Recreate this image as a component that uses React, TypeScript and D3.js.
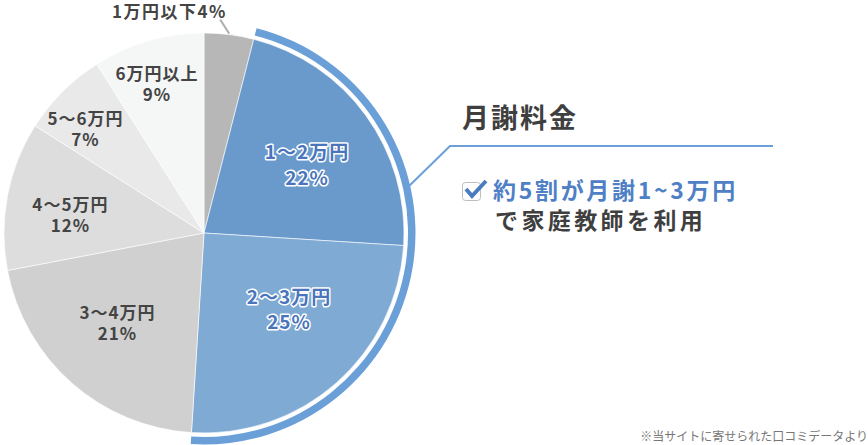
import React from 'react';
import * as d3 from 'd3';

const categories = ['1万円以下', '1〜2万円', '2〜3万円', '3〜4万円', '4〜5万円', '5〜6万円', '6万円以上'];
const shares = [4, 22, 25, 21, 12, 7, 9];
const highlighted = [1, 2];
const title = '月謝料金';
const noteLine1 = '約5割が月謝1~3万円';
const noteLine2 = 'で家庭教師を利用';
const footnote = '※当サイトに寄せられた口コミデータより';

// layout (not data): label radius as fraction of R, and angular nudge in degrees
const labelRadius = [0, 0.618, 0.572, 0.626, 0.674, 0.788, 0.778];
const labelNudge = [0, 2.5, -6.6, 2.3, -3.2, -3.8, -1.4];

const colors = ['#b7b7b7', '#6a9acb', '#7eaad3', '#d0d0d0', '#dddddd', '#e9e9e9', '#f5f6f6'];
const W = 868, H = 445;
const cx = 204, cy = 233, R = 200;
const FONT = '"Noto Sans CJK JP", "Noto Sans", sans-serif';

export default function App() {
  const pie = d3.pie<number>().sort(null).value(d => d).startAngle(0).endAngle(2 * Math.PI);
  const arcs = pie(shares);
  const arc = d3.arc<d3.PieArcDatum<number>>().innerRadius(0).outerRadius(R);
  const hl = arcs.filter((_, i) => highlighted.includes(i));
  const ringStart = d3.min(hl, a => a.startAngle)!;
  const ringEnd = d3.max(hl, a => a.endAngle)!;
  const ringArc = d3.arc()({ innerRadius: R + 4, outerRadius: R + 11.5, startAngle: ringStart, endAngle: ringEnd }) as string;

  const pt = (ang: number, r: number) => [Math.sin(ang) * r, -Math.cos(ang) * r];

  const leadAng = ringStart + (ringEnd - ringStart) * 0.37;
  const [lx, ly] = pt(leadAng, R + 11);
  const ruleY = 146;
  const ruleX0 = 450, ruleX1 = 773;

  const a0 = arcs[0];
  const mid0 = (a0.startAngle + a0.endAngle) / 2;
  const [s0x, s0y] = pt(mid0, R + 1);

  return (
    <svg width={W} height={H} style={{ position: 'absolute', left: 0, top: 0, background: '#fff' }} fontFamily={FONT}>
      <g transform={`translate(${cx},${cy})`}>
        {arcs.map((a, i) => (
          <path key={i} d={arc(a)!} fill={colors[i]} stroke="#fff" strokeWidth={0.6} />
        ))}
        <path d={ringArc} fill="#6a9fd8" />
        <line x1={s0x} y1={s0y} x2={s0x - 9} y2={s0y - 14} stroke="#b0b0b0" strokeWidth={2} />
        {arcs.map((a, i) => {
          if (i === 0) return null;
          const m = (a.startAngle + a.endAngle) / 2 + (labelNudge[i] * Math.PI) / 180;
          const [x, y] = pt(m, R * labelRadius[i]);
          const isHl = highlighted.includes(i);
          const common = {
            textAnchor: 'middle' as const,
            fontWeight: 700,
            fontSize: isHl ? 19 : 17,
            letterSpacing: 1,
            fill: isHl ? '#4a74bb' : '#444',
            stroke: isHl ? '#fff' : 'none',
            strokeWidth: isHl ? 3 : 0,
            paintOrder: 'stroke' as const,
            strokeLinejoin: 'round' as const,
          };
          return (
            <g key={i}>
              <text x={x} y={y + (isHl ? -5.7 : -4.2)} {...common}>{categories[i]}</text>
              <text x={x} y={y + (isHl ? 19.9 : 16.7)} {...common}>{shares[i]}%</text>
            </g>
          );
        })}
      </g>
      <text x={169.5} y={17.5} textAnchor="middle" fontWeight={700} fontSize={17} letterSpacing={1.5} fill="#444">
        {categories[0]}{shares[0]}%
      </text>
      <polyline points={`${cx + lx},${cy + ly} ${ruleX0},${ruleY} ${ruleX1},${ruleY}`} fill="none" stroke="#6a9fd8" strokeWidth={2} />
      <text x={462} y={128} fontSize={27} fontWeight={700} fill="#3f3f3f" letterSpacing={2}>{title}</text>
      <rect x={462.5} y={182.5} width={18} height={18} rx={3} fill="#fff" stroke="#bdbdbd" strokeWidth={1} />
      <path d="M466,189 L472,196 L486,181" fill="none" stroke="#4a7cc0" strokeWidth={4} strokeLinejoin="miter" />
      <text x={493} y={199} fontSize={23} fontWeight={700} fill="#4f80c5" letterSpacing={2.7}>{noteLine1}</text>
      <text x={495} y={229} fontSize={23} fontWeight={700} fill="#3f3f3f" letterSpacing={3.4}>{noteLine2}</text>
      <text x={868} y={441} textAnchor="end" fontSize={12} fill="#777">{footnote}</text>
    </svg>
  );
}
